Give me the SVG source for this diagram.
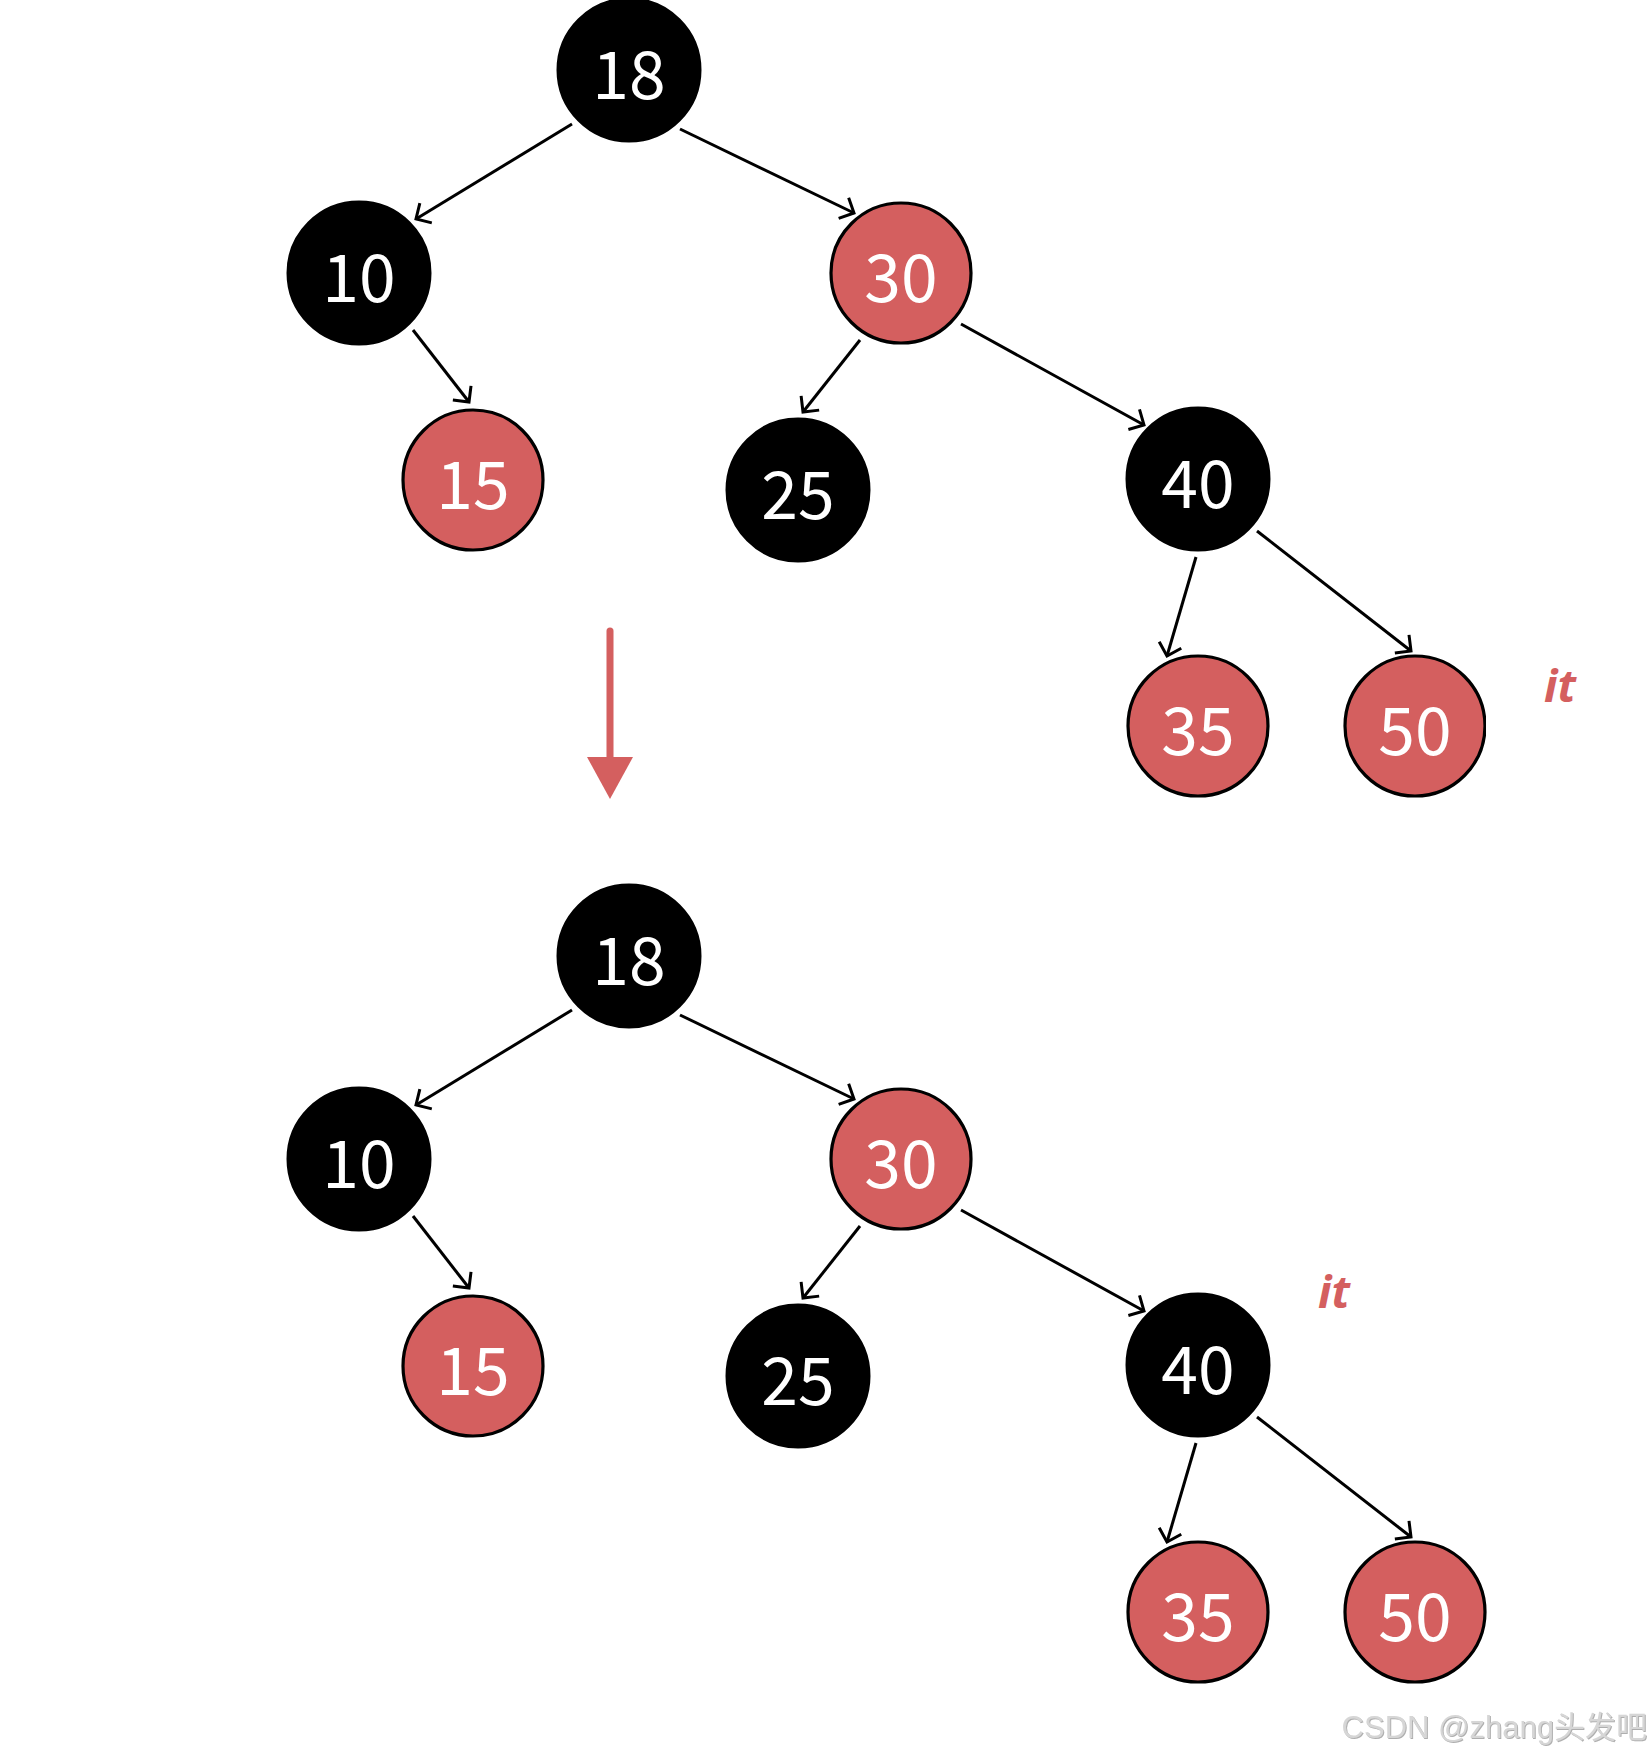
<svg xmlns="http://www.w3.org/2000/svg" width="1652" height="1758" viewBox="0 0 1652 1758">
  <style>
    .blk { fill: #000000; stroke: #000000; stroke-width: 3; }
    .red { fill: #D45F5F; stroke: #000000; stroke-width: 3.2; }
    .lbl { fill: #ffffff; font-family: "Noto Sans CJK SC", "Noto Sans", sans-serif; font-size: 66px; text-anchor: middle; }
    .edge { stroke: #000000; stroke-width: 3; fill: none; marker-end: url(#arr); }
    .it { fill: #D45F5F; font-family: "Noto Sans", "Open Sans", sans-serif; font-size: 45px; font-weight: bold; font-style: italic; }
    .wm { fill: #d6d6d6; font-family: "Liberation Sans", Arial, "Noto Sans CJK SC", sans-serif; font-size: 31px; text-anchor: end; }
  </style>
  <defs>
    <marker id="arr" markerUnits="userSpaceOnUse" viewBox="-16 -16 32 32" markerWidth="32" markerHeight="32" refX="0" refY="0" orient="auto">
      <path d="M-11.5,-11.5 L0,0 L-11.5,11.5" fill="none" stroke="#000000" stroke-width="3" stroke-linejoin="miter"/>
    </marker>
    <clipPath id="clip50">
      <rect x="1300" y="600" width="186" height="260"/>
    </clipPath>
    <filter id="wmshadow" x="-5%" y="-20%" width="110%" height="140%">
      <feDropShadow dx="1" dy="1" stdDeviation="0.6" flood-color="#9a9a9a" flood-opacity="0.8"/>
    </filter>
  </defs>
  <rect x="0" y="0" width="1652" height="1758" fill="#ffffff"/>

  <!-- Top tree connectors -->
  <g id="connectors-top">
    <line class="edge" x1="572" y1="124" x2="416" y2="219"/>
    <line class="edge" x1="680" y1="129" x2="854" y2="213"/>
    <line class="edge" x1="413" y1="330" x2="469" y2="402"/>
    <line class="edge" x1="860" y1="340" x2="803" y2="412"/>
    <line class="edge" x1="961" y1="324" x2="1144" y2="425"/>
    <line class="edge" x1="1196" y1="557" x2="1167" y2="656"/>
    <line class="edge" x1="1257" y1="531" x2="1411" y2="651"/>
  </g>

  <!-- Top tree nodes -->
  <g id="top-18"><circle class="blk" cx="629" cy="70" r="71"/><text class="lbl" x="629" y="99">18</text></g>
  <g id="top-10"><circle class="blk" cx="359" cy="273" r="71"/><text class="lbl" x="359" y="302">10</text></g>
  <g id="top-30"><circle class="red" cx="901" cy="273" r="70"/><text class="lbl" x="901" y="302">30</text></g>
  <g id="top-15"><circle class="red" cx="473" cy="480" r="70"/><text class="lbl" x="473" y="509">15</text></g>
  <g id="top-25"><circle class="blk" cx="798" cy="490" r="71"/><text class="lbl" x="798" y="519">25</text></g>
  <g id="top-40"><circle class="blk" cx="1198" cy="479" r="71"/><text class="lbl" x="1198" y="508">40</text></g>
  <g id="top-35"><circle class="red" cx="1198" cy="726" r="70"/><text class="lbl" x="1198" y="755">35</text></g>
  <g id="top-50"><circle class="red" cx="1415" cy="726" r="70" clip-path="url(#clip50)"/><text class="lbl" x="1415" y="755">50</text></g>
  <text id="it-top" class="it" x="1544" y="702">it</text>

  <!-- Transition arrow -->
  <g id="transition-arrow">
    <line x1="610" y1="631" x2="610" y2="760" stroke="#D45F5F" stroke-width="7" stroke-linecap="round"/>
    <polygon points="587,757 633,757 610,799" fill="#D45F5F"/>
  </g>

  <!-- Bottom tree connectors -->
  <g id="connectors-bottom" transform="translate(0,886)">
    <line class="edge" x1="572" y1="124" x2="416" y2="219"/>
    <line class="edge" x1="680" y1="129" x2="854" y2="213"/>
    <line class="edge" x1="413" y1="330" x2="469" y2="402"/>
    <line class="edge" x1="860" y1="340" x2="803" y2="412"/>
    <line class="edge" x1="961" y1="324" x2="1144" y2="425"/>
    <line class="edge" x1="1196" y1="557" x2="1167" y2="656"/>
    <line class="edge" x1="1257" y1="531" x2="1411" y2="651"/>
  </g>

  <!-- Bottom tree nodes -->
  <g transform="translate(0,886)">
    <g id="bot-18"><circle class="blk" cx="629" cy="70" r="71"/><text class="lbl" x="629" y="99">18</text></g>
    <g id="bot-10"><circle class="blk" cx="359" cy="273" r="71"/><text class="lbl" x="359" y="302">10</text></g>
    <g id="bot-30"><circle class="red" cx="901" cy="273" r="70"/><text class="lbl" x="901" y="302">30</text></g>
    <g id="bot-15"><circle class="red" cx="473" cy="480" r="70"/><text class="lbl" x="473" y="509">15</text></g>
    <g id="bot-25"><circle class="blk" cx="798" cy="490" r="71"/><text class="lbl" x="798" y="519">25</text></g>
    <g id="bot-40"><circle class="blk" cx="1198" cy="479" r="71"/><text class="lbl" x="1198" y="508">40</text></g>
    <g id="bot-35"><circle class="red" cx="1198" cy="726" r="70"/><text class="lbl" x="1198" y="755">35</text></g>
    <g id="bot-50"><circle class="red" cx="1415" cy="726" r="70"/><text class="lbl" x="1415" y="755">50</text></g>
  </g>
  <text id="it-bottom" class="it" x="1318" y="1308">it</text>

  <text id="watermark" class="wm" x="1647" y="1738" filter="url(#wmshadow)">CSDN @zhang头发吧</text>
</svg>
